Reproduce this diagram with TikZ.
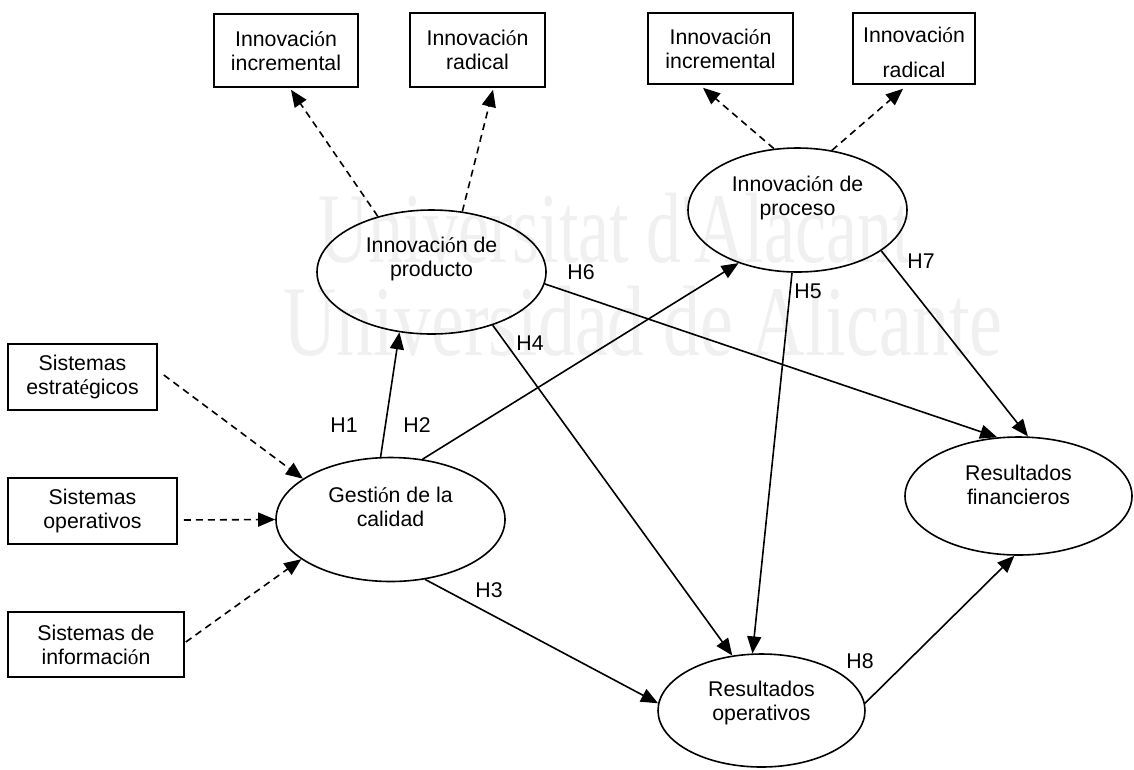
\documentclass[tikz,border=0pt]{standalone}
\usepackage{fontspec}
\setmainfont{Liberation Sans}
\newfontfamily\accfont{Liberation Serif}
\newfontfamily\wmfont{Liberation Serif}
\usetikzlibrary{arrows.meta,shapes.geometric}
% accented letters set in the serif face
\newcommand{\acco}{{\accfont ó}}
\newcommand{\acce}{{\accfont é}}
\begin{document}
\begin{tikzpicture}[x=1pt,y=-1pt,
  every node/.style={font=\fontsize{21.3}{24}\selectfont},
  box/.style={draw, line width=1.6pt, rectangle, inner sep=0pt, align=center},
  ell/.style={draw, line width=1.6pt, ellipse, inner sep=0pt},
  txt/.style={align=center, inner sep=0pt},
  hyp/.style={inner sep=0pt},
  link/.style={line width=1.6pt, -{Triangle[length=17pt,width=14pt]}},
  dlink/.style={link, dash pattern=on 7pt off 5pt},
  wm/.style={text=black!6, font=\wmfont\fontsize{100}{100}\selectfont, inner sep=0pt, anchor=base west}
]
\useasboundingbox (0,0) rectangle (1134,769);
\fill[white] (0,0) rectangle (1134,769);

% background watermark
\node[wm, xscale=.7] (wm1) at (318,262) {Universitat d'Alacant};
\node[wm, xscale=.74] (wm2) at (283,355) {Universidad de Alicante};

% top boxes
\node[box, minimum width=144pt, minimum height=73pt] (b1) at (286,50.5) {Innovaci\acco n\\incremental};
\node[box, minimum width=135pt, minimum height=74pt] (b2) at (477.5,50) {Innovaci\acco n\\radical};
\node[box, minimum width=145pt, minimum height=71pt] (b3) at (720.5,48.5) {Innovaci\acco n\\incremental};
\node[box, minimum width=122pt, minimum height=71pt] (b4) at (914,48.5) {};
\node[txt] (b4t) at (914,52.5) {Innovaci\acco n\\[11pt]radical};

% left boxes
\node[box, minimum width=149pt, minimum height=66pt] (est) at (82.5,377) {Sistemas\\estrat\acce gicos};
\node[box, minimum width=169pt, minimum height=66pt] (ope) at (92.5,511) {Sistemas\\operativos};
\node[box, minimum width=176pt, minimum height=65pt] (inf) at (96,644.5) {Sistemas de\\informaci\acco n};

% constructs
\node[ell, minimum width=229pt, minimum height=124pt] (prod) at (431.5,272) {};
\node[txt] (prodt) at (431.5,259) {Innovaci\acco n de\\producto};
\node[ell, minimum width=219pt, minimum height=124pt] (proc) at (797.5,210) {};
\node[txt] (proct) at (797.5,198) {Innovaci\acco n de\\proceso};
\node[ell, minimum width=229pt, minimum height=124pt] (gest) at (390.5,519.5) {};
\node[txt] (gestt) at (390.5,507) {Gesti\acco n de la\\calidad};
\node[ell, minimum width=207pt, minimum height=113pt] (oper) at (761.5,710.5) {};
\node[txt] (opert) at (761.5,703) {Resultados\\operativos};
\node[ell, minimum width=227pt, minimum height=118pt] (fin) at (1018.5,496) {};
\node[txt] (fint) at (1018.5,485) {Resultados\\financieros};

% dimensions
\draw[dlink] (prod.134.7) -- ([xshift=5pt,yshift=-2pt]b1.south);
\draw[dlink] (prod.63.8) -- ([xshift=15.5pt,yshift=-2pt]b2.south);
\draw[dlink] (proc.111.6) -- ([xshift=-17.5pt,yshift=-3pt]b3.south);
\draw[dlink] (proc.60.2) -- ([xshift=-11pt,yshift=-4pt]b4.south);
\draw[dlink] ([xshift=6pt,yshift=2pt]est.east) -- (gest.155.6);
\draw[dlink] ([xshift=6pt,yshift=-9pt]ope.east) -- (gest.180);
\draw[dlink] ([xshift=1pt,yshift=2.5pt]inf.east) -- (gest.204.9);

% hypotheses
\draw[link] (gest.99.5) -- (prod.242.3);
\draw[link] (gest.62.9) -- (proc.222.7);
\draw[link] (gest.300.1) -- (oper.176);
\draw[link] (prod.319.8) -- (oper.118.5);
\draw[link] (proc.265.8) -- (oper.99.3);
\draw[link] (prod.354.5) -- (fin.110);
\draw[link] (proc.334.4) -- (fin.81.8);
\draw[link] (oper.4.4) -- (fin.266.7);

\node[hyp] (h1) at (344,425) {H1};
\node[hyp] (h2) at (417,425) {H2};
\node[hyp] (h3) at (489,590) {H3};
\node[hyp] (h4) at (530,343) {H4};
\node[hyp] (h5) at (808,291) {H5};
\node[hyp] (h6) at (581,272) {H6};
\node[hyp] (h7) at (921,261) {H7};
\node[hyp] (h8) at (860,661) {H8};
\end{tikzpicture}
\end{document}
